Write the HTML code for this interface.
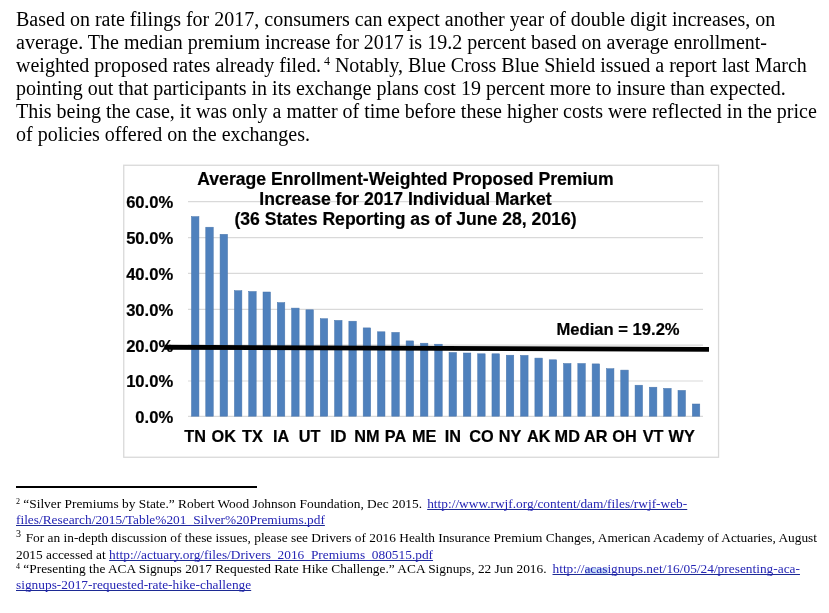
<!DOCTYPE html>
<html><head><meta charset="utf-8"><style>
html,body{margin:0;padding:0;background:#fff;width:829px;height:613px;overflow:hidden;}
.p,.fn,svg{will-change:transform;}
.p{position:absolute;left:16px;top:8px;font-family:"Liberation Serif",serif;font-size:20px;line-height:23px;color:#000;white-space:nowrap;}
.sup{font-size:12px;position:relative;top:-7.3px;line-height:0;}
svg{position:absolute;left:0;top:0;}
.ax{font-family:"Liberation Sans",sans-serif;font-weight:bold;font-size:16.3px;fill:#000;stroke:#000;stroke-width:0.2px;}
.ay{font-family:"Liberation Sans",sans-serif;font-weight:bold;font-size:16.6px;fill:#000;stroke:#000;stroke-width:0.2px;}
.md{font-family:"Liberation Sans",sans-serif;font-weight:bold;font-size:16.6px;fill:#000;stroke:#000;stroke-width:0.2px;}
.ti{font-family:"Liberation Sans",sans-serif;font-weight:bold;font-size:17.6px;fill:#000;stroke:#000;stroke-width:0.2px;}
.sep{position:absolute;left:16px;top:485.8px;width:241px;height:2px;background:#000;}
.fn{position:absolute;left:16px;font-family:"Liberation Serif",serif;font-size:13.37px;line-height:15px;color:#000;white-space:nowrap;}
.fn a{color:#2424b4;text-decoration:underline;text-decoration-color:#1c2a94;text-decoration-skip-ink:none;}
.fs{font-size:8px;position:relative;top:-3.6px;line-height:0;}
.hl{background:#a8c8f0;}
</style></head><body>
<div class="p">Based on rate filings for 2017, consumers can expect another year of double digit increases, on<br>average. The median premium increase for 2017 is 19.2 percent based on average enrollment-<br>weighted proposed rates already filed.<span class="sup"> 4</span> Notably, Blue Cross Blue Shield issued a report last March<br>pointing out that participants in its exchange plans cost 19 percent more to insure than expected.<br>This being the case, it was only a matter of time before these higher costs were reflected in the price<br>of policies offered on the exchanges.</div>
<svg width="829" height="613" viewBox="0 0 829 613">
<rect x="123.75" y="165.25" width="594.8" height="292" fill="#fff" stroke="#d9d9d9" stroke-width="1.3"/>
<line x1="188" y1="201.7" x2="703" y2="201.7" stroke="#d9d9d9" stroke-width="1.2"/>
<line x1="188" y1="237.6" x2="703" y2="237.6" stroke="#d9d9d9" stroke-width="1.2"/>
<line x1="188" y1="273.4" x2="703" y2="273.4" stroke="#d9d9d9" stroke-width="1.2"/>
<line x1="188" y1="309.3" x2="703" y2="309.3" stroke="#d9d9d9" stroke-width="1.2"/>
<line x1="188" y1="345.2" x2="703" y2="345.2" stroke="#d9d9d9" stroke-width="1.2"/>
<line x1="188" y1="381.0" x2="703" y2="381.0" stroke="#d9d9d9" stroke-width="1.2"/>
<line x1="188" y1="416.4" x2="703" y2="416.4" stroke="#d9d9d9" stroke-width="1.2"/>
<rect x="191.45" y="216.60" width="7.5" height="199.60" fill="#4f81bd" stroke="#4a76ab" stroke-width="0.5"/>
<rect x="205.76" y="227.20" width="7.5" height="189.00" fill="#4f81bd" stroke="#4a76ab" stroke-width="0.5"/>
<rect x="220.07" y="234.30" width="7.5" height="181.90" fill="#4f81bd" stroke="#4a76ab" stroke-width="0.5"/>
<rect x="234.38" y="290.70" width="7.5" height="125.50" fill="#4f81bd" stroke="#4a76ab" stroke-width="0.5"/>
<rect x="248.69" y="291.50" width="7.5" height="124.70" fill="#4f81bd" stroke="#4a76ab" stroke-width="0.5"/>
<rect x="263.00" y="292.00" width="7.5" height="124.20" fill="#4f81bd" stroke="#4a76ab" stroke-width="0.5"/>
<rect x="277.31" y="302.60" width="7.5" height="113.60" fill="#4f81bd" stroke="#4a76ab" stroke-width="0.5"/>
<rect x="291.62" y="308.10" width="7.5" height="108.10" fill="#4f81bd" stroke="#4a76ab" stroke-width="0.5"/>
<rect x="305.93" y="309.80" width="7.5" height="106.40" fill="#4f81bd" stroke="#4a76ab" stroke-width="0.5"/>
<rect x="320.24" y="318.70" width="7.5" height="97.50" fill="#4f81bd" stroke="#4a76ab" stroke-width="0.5"/>
<rect x="334.55" y="320.40" width="7.5" height="95.80" fill="#4f81bd" stroke="#4a76ab" stroke-width="0.5"/>
<rect x="348.86" y="321.20" width="7.5" height="95.00" fill="#4f81bd" stroke="#4a76ab" stroke-width="0.5"/>
<rect x="363.17" y="327.90" width="7.5" height="88.30" fill="#4f81bd" stroke="#4a76ab" stroke-width="0.5"/>
<rect x="377.48" y="331.80" width="7.5" height="84.40" fill="#4f81bd" stroke="#4a76ab" stroke-width="0.5"/>
<rect x="391.79" y="332.40" width="7.5" height="83.80" fill="#4f81bd" stroke="#4a76ab" stroke-width="0.5"/>
<rect x="406.10" y="340.90" width="7.5" height="75.30" fill="#4f81bd" stroke="#4a76ab" stroke-width="0.5"/>
<rect x="420.41" y="343.20" width="7.5" height="73.00" fill="#4f81bd" stroke="#4a76ab" stroke-width="0.5"/>
<rect x="434.72" y="344.20" width="7.5" height="72.00" fill="#4f81bd" stroke="#4a76ab" stroke-width="0.5"/>
<rect x="449.03" y="352.50" width="7.5" height="63.70" fill="#4f81bd" stroke="#4a76ab" stroke-width="0.5"/>
<rect x="463.34" y="353.00" width="7.5" height="63.20" fill="#4f81bd" stroke="#4a76ab" stroke-width="0.5"/>
<rect x="477.65" y="353.80" width="7.5" height="62.40" fill="#4f81bd" stroke="#4a76ab" stroke-width="0.5"/>
<rect x="491.96" y="353.80" width="7.5" height="62.40" fill="#4f81bd" stroke="#4a76ab" stroke-width="0.5"/>
<rect x="506.27" y="355.20" width="7.5" height="61.00" fill="#4f81bd" stroke="#4a76ab" stroke-width="0.5"/>
<rect x="520.58" y="355.40" width="7.5" height="60.80" fill="#4f81bd" stroke="#4a76ab" stroke-width="0.5"/>
<rect x="534.89" y="358.10" width="7.5" height="58.10" fill="#4f81bd" stroke="#4a76ab" stroke-width="0.5"/>
<rect x="549.20" y="359.80" width="7.5" height="56.40" fill="#4f81bd" stroke="#4a76ab" stroke-width="0.5"/>
<rect x="563.51" y="363.50" width="7.5" height="52.70" fill="#4f81bd" stroke="#4a76ab" stroke-width="0.5"/>
<rect x="577.82" y="363.50" width="7.5" height="52.70" fill="#4f81bd" stroke="#4a76ab" stroke-width="0.5"/>
<rect x="592.13" y="363.90" width="7.5" height="52.30" fill="#4f81bd" stroke="#4a76ab" stroke-width="0.5"/>
<rect x="606.44" y="368.70" width="7.5" height="47.50" fill="#4f81bd" stroke="#4a76ab" stroke-width="0.5"/>
<rect x="620.75" y="370.10" width="7.5" height="46.10" fill="#4f81bd" stroke="#4a76ab" stroke-width="0.5"/>
<rect x="635.06" y="385.20" width="7.5" height="31.00" fill="#4f81bd" stroke="#4a76ab" stroke-width="0.5"/>
<rect x="649.37" y="387.20" width="7.5" height="29.00" fill="#4f81bd" stroke="#4a76ab" stroke-width="0.5"/>
<rect x="663.68" y="388.40" width="7.5" height="27.80" fill="#4f81bd" stroke="#4a76ab" stroke-width="0.5"/>
<rect x="677.99" y="390.40" width="7.5" height="25.80" fill="#4f81bd" stroke="#4a76ab" stroke-width="0.5"/>
<rect x="692.30" y="404.00" width="7.5" height="12.20" fill="#4f81bd" stroke="#4a76ab" stroke-width="0.5"/>
<text x="173.2" y="208.0" text-anchor="end" class="ay">60.0%</text>
<text x="173.2" y="243.9" text-anchor="end" class="ay">50.0%</text>
<text x="173.2" y="279.7" text-anchor="end" class="ay">40.0%</text>
<text x="173.2" y="315.6" text-anchor="end" class="ay">30.0%</text>
<text x="173.2" y="351.5" text-anchor="end" class="ay">20.0%</text>
<text x="173.2" y="387.3" text-anchor="end" class="ay">10.0%</text>
<text x="173.2" y="422.7" text-anchor="end" class="ay">0.0%</text>
<text x="195.20" y="441.7" text-anchor="middle" class="ax">TN</text>
<text x="223.82" y="441.7" text-anchor="middle" class="ax">OK</text>
<text x="252.44" y="441.7" text-anchor="middle" class="ax">TX</text>
<text x="281.06" y="441.7" text-anchor="middle" class="ax">IA</text>
<text x="309.68" y="441.7" text-anchor="middle" class="ax">UT</text>
<text x="338.30" y="441.7" text-anchor="middle" class="ax">ID</text>
<text x="366.92" y="441.7" text-anchor="middle" class="ax">NM</text>
<text x="395.54" y="441.7" text-anchor="middle" class="ax">PA</text>
<text x="424.16" y="441.7" text-anchor="middle" class="ax">ME</text>
<text x="452.78" y="441.7" text-anchor="middle" class="ax">IN</text>
<text x="481.40" y="441.7" text-anchor="middle" class="ax">CO</text>
<text x="510.02" y="441.7" text-anchor="middle" class="ax">NY</text>
<text x="538.64" y="441.7" text-anchor="middle" class="ax">AK</text>
<text x="567.26" y="441.7" text-anchor="middle" class="ax">MD</text>
<text x="595.88" y="441.7" text-anchor="middle" class="ax">AR</text>
<text x="624.50" y="441.7" text-anchor="middle" class="ax">OH</text>
<text x="653.12" y="441.7" text-anchor="middle" class="ax">VT</text>
<text x="681.74" y="441.7" text-anchor="middle" class="ax">WY</text>
<text x="405.5" y="185.4" text-anchor="middle" class="ti">Average Enrollment-Weighted Proposed Premium</text>
<text x="405.5" y="204.9" text-anchor="middle" class="ti">Increase for 2017 Individual Market</text>
<text x="405.5" y="224.8" text-anchor="middle" class="ti">(36 States Reporting as of June 28, 2016)</text>
<text x="556.5" y="334.7" class="md">Median = 19.2%</text>
<polygon points="164.4,344.8 709,347.1 709,351.8 164.4,349.7" fill="#000"/>
</svg>
<div class="sep"></div>
<div style="position:absolute;left:584.9px;top:567.7px;width:23.4px;height:6.7px;background:#c6dbf6"></div>
<div class="fn" style="top:496px"><span class="fs">2</span> “Silver Premiums by State.” Robert Wood Johnson Foundation, Dec 2015. <a style="margin-left:1.8px">http://www.rwjf.org/content/dam/files/rwjf-web-</a></div>
<div class="fn" style="top:511.5px"><a>files/Research/2015/Table%201_Silver%20Premiums.pdf</a></div>
<div class="fn" style="top:529.5px"><span class="fs" style="font-size:10px;top:-5px">3</span> <span style="margin-left:1.3px">For</span> an in-depth discussion of these issues, please see Drivers of 2016 Health Insurance Premium Changes, American Academy of Actuaries, August</div>
<div class="fn" style="top:546.5px">2015 accessed at <a>http://actuary.org/files/Drivers_2016_Premiums_080515.pdf</a></div>
<div class="fn" style="top:561px"><span class="fs">4</span> “Presenting the ACA Signups 2017 Requested Rate Hike Challenge.” ACA Signups, 22 Jun 2016. <a style="margin-left:2.6px">http://acasignups.net/16/05/24/presenting-aca-</a></div>
<div class="fn" style="top:576.5px"><a>signups-2017-requested-rate-hike-challenge</a></div>
</body></html>
